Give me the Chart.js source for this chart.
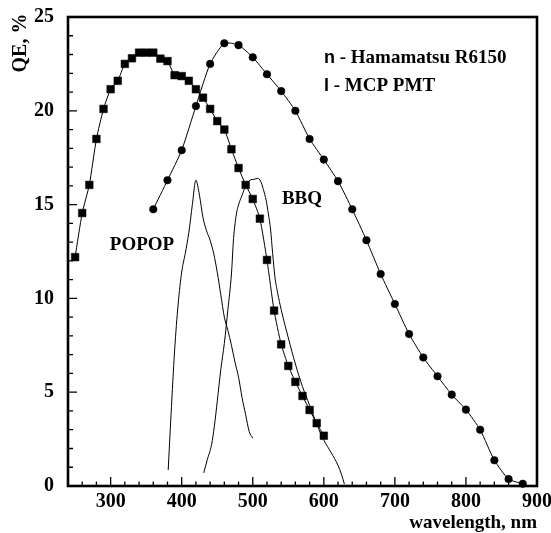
<!DOCTYPE html>
<html>
<head>
<meta charset="utf-8">
<script src="https://cdn.jsdelivr.net/npm/chart.js@4.4.0/dist/chart.umd.min.js"></script>
<style>body{margin:0;background:#fff}</style>
</head>
<body>
<canvas id="qeChart" width="551" height="533"></canvas>
<script>
// Hamamatsu R6150 (squares)
var r6150Wl = [250, 260, 270, 280, 290, 300, 310, 320, 330, 340, 350, 360, 370, 380, 390, 400, 410, 420,
  430, 440, 450, 460, 470, 480, 490, 500, 510, 520, 530, 540, 550, 560, 570, 580, 590, 600];
var r6150Qe = [12.2, 14.55, 16.05, 18.5, 20.1, 21.15, 21.6, 22.5, 22.8, 23.1, 23.1, 23.1, 22.78, 22.65, 21.9, 21.85, 21.6, 21.15,
  20.7, 20.1, 19.45, 19.0, 17.95, 16.95, 16.05, 15.3, 14.25, 12.05, 9.35, 7.55, 6.4, 5.55, 4.8, 4.05, 3.35, 2.68];

// MCP PMT (circles)
var mcpWl = [360, 380, 400, 420, 440, 460, 480, 500, 520, 540, 560, 580, 600, 620, 640, 660, 680, 700,
  720, 740, 760, 780, 800, 820, 840, 860, 880];
var mcpQe = [14.75, 16.3, 17.9, 20.25, 22.5, 23.6, 23.5, 22.85, 21.95, 21.05, 20.0, 18.5, 17.4, 16.25, 14.75, 13.1, 11.3, 9.7,
  8.1, 6.85, 5.85, 4.87, 4.07, 3.0, 1.37, 0.37, 0.12];

// POPOP emission (thin line)
var popopWl = [381, 385, 390, 395, 400, 405, 410, 415, 420, 425, 430, 435, 440, 445, 450, 455, 460, 465, 470, 475, 480, 485, 490, 495, 500];
var popopVal = [0.85, 3.8, 7.2, 9.7, 11.4, 12.4, 13.5, 15.0, 16.3, 15.5, 14.3, 13.6, 13.1, 12.4, 11.4, 10.2, 9.0, 8.3, 7.5, 6.6, 5.8, 4.7, 3.8, 2.9, 2.55];

// BBQ emission (thin line)
var bbqWl = [431, 436, 442, 446, 450, 455, 460, 465, 470, 473, 477, 481, 485, 490, 496, 502, 507, 511, 515, 519, 522, 525, 528, 531,
  535, 540, 550, 560, 570, 580, 590, 600, 610, 620, 625, 629];
var bbqVal = [0.7, 1.4, 2.2, 3.2, 4.5, 6.2, 7.6, 9.4, 11.3, 13.2, 14.5, 15.1, 15.5, 16.0, 16.3, 16.35, 16.4, 16.25, 15.8, 15.2, 14.5, 13.7, 12.4, 11.2,
  10.3, 9.4, 7.9, 6.5, 5.3, 4.3, 3.3, 2.45, 1.8, 1.1, 0.6, 0.1];

var xMajor = [300, 400, 500, 600, 700, 800, 900];
var yMajor = [0, 5, 10, 15, 20, 25];

function pts(xs, ys) {
  return xs.map(function (x, i) { return { x: x, y: ys[i] }; });
}

var serif = '"Liberation Serif", "Times New Roman", serif';

var framePlugin = {
  id: 'frame',
  afterDraw: function (chart) {
    var c = chart.ctx, a = chart.chartArea, xs = chart.scales.x, ys = chart.scales.y;
    c.save();
    c.strokeStyle = '#000';
    c.lineWidth = 1.3;
    c.beginPath();
    // inward ticks, minor every 20 nm / 1 %
    for (var v = 260; v < 900; v += 20) {
      var px = xs.getPixelForValue(v);
      var len = xMajor.indexOf(v) >= 0 ? 9 : 4.5;
      c.moveTo(px, a.bottom);
      c.lineTo(px, a.bottom - len);
    }
    for (var q = 1; q < 25; q++) {
      var py = ys.getPixelForValue(q);
      var l2 = yMajor.indexOf(q) >= 0 ? 9 : 5;
      c.moveTo(a.left, py);
      c.lineTo(a.left + l2, py);
    }
    c.stroke();
    c.lineWidth = 2.6;
    c.strokeRect(a.left, a.top, a.right - a.left, a.bottom - a.top);

    c.fillStyle = '#000';
    c.textBaseline = 'middle';
    c.font = 'bold 19px ' + serif;
    c.textAlign = 'center';
    c.fillText('POPOP', 142, 245);
    c.fillText('BBQ', 302, 199);

    c.textAlign = 'left';
    c.font = 'bold 18px "Liberation Sans", Arial, sans-serif';
    c.fillText('n', 324, 58);
    var w1 = c.measureText('n').width;
    c.fillText('l', 324, 86);
    var w2 = c.measureText('l').width;
    c.font = 'bold 19px ' + serif;
    c.fillText(' - Hamamatsu R6150', 324 + w1, 58);
    c.fillText(' - MCP PMT', 324 + w2, 86);

    c.font = 'bold 19px ' + serif;
    c.textAlign = 'right';
    c.fillText('wavelength, nm', 537, 523);

    c.translate(21, 43);
    c.rotate(-Math.PI / 2);
    c.textAlign = 'center';
    c.font = 'bold 20px ' + serif;
    c.fillText('QE, %', 0, 0);
    c.restore();
  }
};

var ctx = document.getElementById('qeChart').getContext('2d');
var qeChart = new Chart(ctx, {
  type: 'line',
  data: {
    datasets: [{
      label: 'Hamamatsu R6150',
      data: pts(r6150Wl, r6150Qe),
      borderColor: '#000',
      backgroundColor: '#000',
      borderWidth: 1,
      pointStyle: 'rect',
      pointRadius: 5.4,
      pointBorderWidth: 0.5,
      tension: 0.2,
      clip: false
    }, {
      label: 'MCP PMT',
      data: pts(mcpWl, mcpQe),
      borderColor: '#000',
      backgroundColor: '#000',
      borderWidth: 1,
      pointStyle: 'circle',
      pointRadius: 3.8,
      pointBorderWidth: 0.5,
      tension: 0.2,
      clip: false
    }, {
      label: 'POPOP',
      data: pts(popopWl, popopVal),
      borderColor: '#000',
      borderWidth: 1,
      pointRadius: 0,
      cubicInterpolationMode: 'monotone'
    }, {
      label: 'BBQ',
      data: pts(bbqWl, bbqVal),
      borderColor: '#000',
      borderWidth: 1,
      pointRadius: 0,
      cubicInterpolationMode: 'monotone'
    }]
  },
  options: {
    responsive: false,
    animation: false,
    layout: { padding: { left: 0, top: 17, right: 14, bottom: 0 } },
    plugins: { legend: { display: false }, tooltip: { enabled: false } },
    scales: {
      x: {
        type: 'linear',
        min: 240,
        max: 900,
        grid: { display: false, drawTicks: false },
        border: { display: false },
        afterBuildTicks: function (s) { s.ticks = xMajor.map(function (v) { return { value: v }; }); },
        afterFit: function (s) { s.height = 47; s.paddingLeft = 0; s.paddingRight = 0; },
        ticks: {
          autoSkip: false,
          padding: 4,
          color: '#000',
          maxRotation: 0,
          font: { family: serif, size: 20, weight: 'bold' }
        }
      },
      y: {
        min: 0,
        max: 25,
        grid: { display: false, drawTicks: false },
        border: { display: false },
        afterBuildTicks: function (s) { s.ticks = yMajor.map(function (v) { return { value: v }; }); },
        afterFit: function (s) { s.width = 68; s.paddingTop = 0; s.paddingBottom = 0; },
        ticks: {
          autoSkip: false,
          padding: 14,
          color: '#000',
          font: { family: serif, size: 20, weight: 'bold' }
        }
      }
    }
  },
  plugins: [framePlugin]
});
</script>
</body>
</html>
